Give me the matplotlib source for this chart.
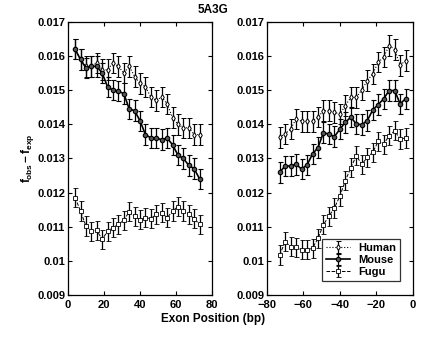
import numpy as np
import matplotlib
matplotlib.use('Agg')
import matplotlib.pyplot as plt

plt.rcParams['font.family'] = ['Liberation Sans', 'DejaVu Sans']
plt.rcParams['font.weight'] = 'bold'
plt.rcParams['mathtext.fontset'] = 'custom'
plt.rcParams['mathtext.rm'] = 'Liberation Sans:bold'
plt.rcParams['mathtext.it'] = 'Liberation Sans:bold'

# left panel: positions downstream of exon start
pos_left = list(range(4, 74, 3))
human_left = [0.0162, 0.0159, 0.0157, 0.0157, 0.0158, 0.0156, 0.0156, 0.0158,
              0.0157, 0.0155, 0.0157, 0.0154, 0.0152, 0.0151, 0.0148, 0.0147,
              0.0148, 0.0146, 0.0142, 0.0140, 0.0139, 0.0139, 0.0137, 0.0137]
mouse_left = [0.0162, 0.0159, 0.01565, 0.0157, 0.0157, 0.0155, 0.0151, 0.0150,
              0.01497, 0.0149, 0.01445, 0.0144, 0.0141, 0.0137, 0.0136, 0.0136,
              0.01355, 0.0136, 0.0134, 0.0131, 0.0130, 0.0128, 0.0127, 0.0124]
fugu_left = [0.01185, 0.01146, 0.01102, 0.01087, 0.01089, 0.01063, 0.01087, 0.01097,
             0.01107, 0.01119, 0.01144, 0.01131, 0.01120, 0.01126, 0.01124, 0.01136,
             0.01141, 0.01126, 0.01146, 0.01159, 0.01146, 0.01136, 0.01124, 0.01107]

# right panel: positions upstream of exon end
pos_right = list(range(-73, -3, 3))
human_right = [0.01362, 0.01372, 0.01386, 0.01416, 0.01409, 0.01409, 0.01409, 0.01421,
               0.01440, 0.01440, 0.01435, 0.01430, 0.01455, 0.01479, 0.01479, 0.01501,
               0.01528, 0.01548, 0.01582, 0.01597, 0.01631, 0.01619, 0.01573, 0.01587]
mouse_right = [0.01259, 0.01278, 0.01278, 0.01283, 0.01269, 0.01281, 0.01313, 0.01332,
               0.01376, 0.01371, 0.01364, 0.01386, 0.01406, 0.01421, 0.01401, 0.01399,
               0.01411, 0.01442, 0.01458, 0.01475, 0.01499, 0.01499, 0.01460, 0.01475]
fugu_right = [0.01017, 0.01056, 0.01042, 0.01040, 0.01032, 0.01032, 0.01037, 0.01066,
              0.01106, 0.01131, 0.01155, 0.01190, 0.01235, 0.01273, 0.01308, 0.01283,
              0.01303, 0.01318, 0.01350, 0.01342, 0.01367, 0.01381, 0.01357, 0.01360]

err_hm = 0.0003
err_fugu = 0.00028

yticks = [0.009, 0.01, 0.011, 0.012, 0.013, 0.014, 0.015, 0.016, 0.017]
ytick_labels = ['0.009', '0.01', '0.011', '0.012', '0.013', '0.014', '0.015', '0.016', '0.017']

fig = plt.figure(figsize=(4.27, 3.43), dpi=100)
ax1 = fig.add_axes([0.159, 0.140, 0.338, 0.796])
ax2 = fig.add_axes([0.625, 0.140, 0.342, 0.796])


def draw(ax, x, h, m, f):
    eb = dict(ecolor='black', elinewidth=0.9, capsize=1.8, capthick=0.9)
    ax.errorbar(x, h, yerr=err_hm, color='black', ls=':', lw=0.8, marker='d',
                ms=3, mfc='white', mec='black', mew=0.7, label='Human', **eb)
    ax.errorbar(x, m, yerr=err_hm, color='black', ls='-', lw=1.2, marker='o',
                ms=3.2, mfc='#555555', mec='black', mew=0.8, label='Mouse', **eb)
    ax.errorbar(x, f, yerr=err_fugu, color='black', ls='--', lw=0.7, marker='s',
                ms=2.5, mfc='white', mec='black', mew=0.6, label='Fugu', **eb)
    ax.set_ylim(0.009, 0.017)
    ax.set_yticks(yticks)
    ax.set_yticklabels(ytick_labels)
    ax.tick_params(direction='in', length=3, labelsize=8, top=True, right=True)
    ax.tick_params(axis='y', pad=2)
    ax.tick_params(axis='x', pad=3.5)
    for s in ax.spines.values():
        s.set_linewidth(0.9)


draw(ax1, pos_left, human_left, mouse_left, fugu_left)
ax1.set_xlim(0, 80)
ax1.set_xticks([0, 20, 40, 60, 80])
ax1.set_ylabel('$f_{obs}-f_{exp}$', fontsize=8.5, labelpad=1)

draw(ax2, pos_right, human_right, mouse_right, fugu_right)
ax2.set_xlim(-80, 0)
ax2.set_xticks([-80, -60, -40, -20, 0])

leg = ax2.legend(loc='lower right', fontsize=8, frameon=True, fancybox=False,
                 edgecolor='black', handlelength=2.2, borderpad=0.35,
                 labelspacing=0.2, handletextpad=0.7, bbox_to_anchor=(0.95, 0.03))
leg.get_frame().set_linewidth(0.9)

fig.text(0.5, 0.972, '5A3G', ha='center', va='center', fontsize=8.5)
fig.text(0.5, 0.07, 'Exon Position (bp)', ha='center', va='center', fontsize=8.5)

fig.savefig('out.png', dpi=100)
